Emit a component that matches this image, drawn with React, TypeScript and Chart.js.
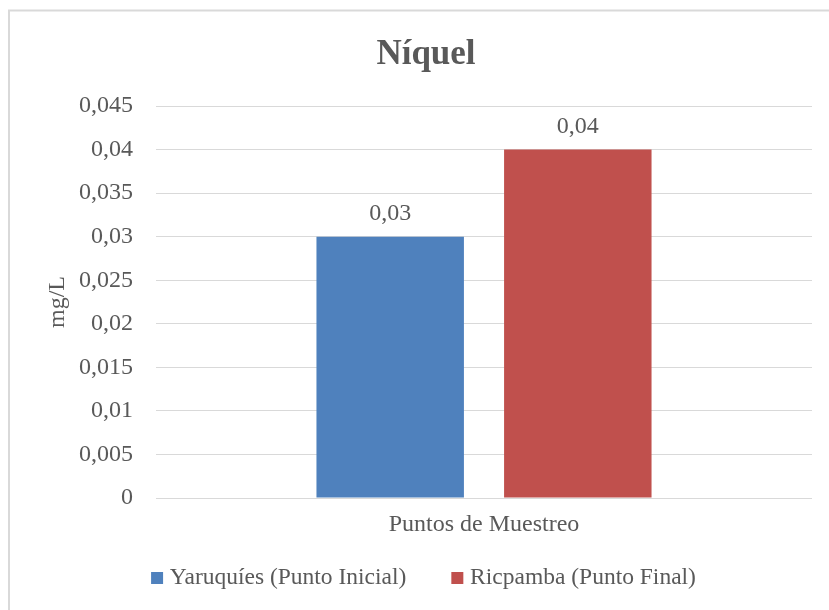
import React, { useEffect, useRef } from "react";
import { Chart, registerables } from "chart.js";

Chart.register(...registerables);

const categories = ["Puntos de Muestreo"];
const seriesNames = ["Yaruquíes (Punto Inicial)", "Ricpamba (Punto Final)"];
const yaruquiesValues = [0.03];
const ricpambaValues = [0.04];
const yTickLabels = ["0", "0,005", "0,01", "0,015", "0,02", "0,025", "0,03", "0,035", "0,04", "0,045"];
const chartTitle = "Níquel";
const yAxisTitle = "mg/L";

const FONT = "'Liberation Serif', 'Times New Roman', serif";
const TEXT = "#595959";
const GRID = "#d9d9d9";

const fmt = (v: number) => String(Number(v.toFixed(4))).replace(".", ",");

const framePlugin = {
  id: "frame",
  beforeDraw(chart: any) {
    const { ctx, width, height } = chart;
    ctx.save();
    ctx.fillStyle = "#ffffff";
    ctx.fillRect(0, 0, width, height);
    ctx.strokeStyle = GRID;
    ctx.lineWidth = 2;
    ctx.beginPath();
    ctx.moveTo(9, height + 2);
    ctx.lineTo(9, 10.5);
    ctx.lineTo(width + 2, 10.5);
    ctx.stroke();
    ctx.restore();
  },
};

const valueLabels = {
  id: "valueLabels",
  afterDatasetsDraw(chart: any) {
    const { ctx } = chart;
    ctx.save();
    ctx.font = `24px ${FONT}`;
    ctx.fillStyle = TEXT;
    ctx.textAlign = "center";
    ctx.textBaseline = "alphabetic";
    chart.data.datasets.forEach((ds: any, di: number) => {
      const meta = chart.getDatasetMeta(di);
      meta.data.forEach((bar: any, i: number) => {
        ctx.fillText(fmt(ds.data[i]), bar.x, bar.y - 17);
      });
    });
    ctx.restore();
  },
};

export default function App() {
  const ref = useRef<HTMLCanvasElement>(null);
  useEffect(() => {
    if (!ref.current) return;
    const chart = new Chart(ref.current, {
      type: "bar",
      data: {
        labels: categories,
        datasets: [
          {
            label: seriesNames[0],
            data: yaruquiesValues,
            backgroundColor: "#4F81BD",
            borderWidth: 0,
            categoryPercentage: 0.572,
            barPercentage: 0.786,
          },
          {
            label: seriesNames[1],
            data: ricpambaValues,
            backgroundColor: "#C0504D",
            borderWidth: 0,
            categoryPercentage: 0.572,
            barPercentage: 0.786,
          },
        ],
      },
      options: {
        animation: false,
        responsive: false,
        maintainAspectRatio: false,
        layout: { padding: { left: 40, right: 17, top: 0, bottom: 10.25 } },
        plugins: {
          title: {
            display: true,
            text: chartTitle,
            color: TEXT,
            font: { family: FONT, size: 35, weight: "bold" },
            padding: { top: 34, bottom: 30 },
          },
          legend: {
            position: "bottom",
            labels: {
              color: TEXT,
              font: { family: FONT, size: 23.5 },
              usePointStyle: true,
              pointStyle: "rect",
              boxWidth: 2,
              boxHeight: 12,
              padding: 50,
            },
          },
          tooltip: { enabled: false },
        },
        scales: {
          x: {
            grid: { display: false, drawTicks: false },
            border: { display: false },
            ticks: {
              color: TEXT,
              font: { family: FONT, size: 24 },
              padding: 12.6,
            },
            afterFit(scale: any) {
              scale.height = 18.25;
              scale._computeLabelArea = () => undefined;
            },
          },
          y: {
            min: 0,
            max: 0.045,
            grid: { color: GRID, lineWidth: 1, drawTicks: false },
            border: { display: false },
            ticks: {
              stepSize: 0.005,
              color: TEXT,
              font: { family: FONT, size: 24 },
              padding: 23,
              callback: (_v: any, i: number) => yTickLabels[i],
            },
            title: {
              display: true,
              text: yAxisTitle,
              color: TEXT,
              font: { family: FONT, size: 24 },
              padding: { top: 3.6, bottom: 0 },
            },
            afterFit(scale: any) {
              scale.width = 116;
            },
          },
        },
      },
      plugins: [framePlugin, valueLabels],
    });
    return () => chart.destroy();
  }, []);
  return (
    <div style={{ position: "fixed", left: 0, top: 0, width: 829, height: 610, overflow: "hidden", background: "#fff" }}>
      <canvas ref={ref} width={829} height={610} style={{ display: "block" }} />
    </div>
  );
}
